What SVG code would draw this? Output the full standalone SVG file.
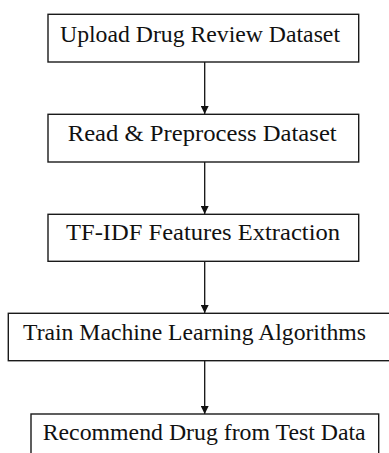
<svg xmlns="http://www.w3.org/2000/svg" width="389" height="453" viewBox="0 0 389 453">
  <style>
    .box { fill: #ffffff; stroke: #1a1a1a; stroke-width: 1.4; }
    .label { font-family: "Liberation Serif", "Times New Roman", serif; font-size: 23.5px; fill: #111111; }
    .link { stroke: #111111; stroke-width: 1.3; fill: none; }
  </style>
  <defs>
    <marker id="arrow" viewBox="0 0 10 10" refX="10" refY="5" markerWidth="8" markerHeight="8" markerUnits="userSpaceOnUse" orient="auto">
      <path d="M0,0 L10,5 L0,10 Z" fill="#111111"/>
    </marker>
  </defs>
  <rect width="389" height="453" fill="#ffffff"/>

  <g id="connectors">
    <line class="link" x1="204.7" y1="62" x2="204.7" y2="114" marker-end="url(#arrow)"/>
    <line class="link" x1="204.7" y1="162" x2="204.7" y2="214" marker-end="url(#arrow)"/>
    <line class="link" x1="204.7" y1="261" x2="204.7" y2="313" marker-end="url(#arrow)"/>
    <line class="link" x1="204.7" y1="361" x2="204.7" y2="414" marker-end="url(#arrow)"/>
  </g>

  <g id="upload">
    <rect class="box" x="48" y="14.3" width="310.7" height="47.7"/>
    <text class="label" x="60" y="41.7" textLength="280" lengthAdjust="spacingAndGlyphs">Upload Drug Review Dataset</text>
  </g>
  <g id="preprocess">
    <rect class="box" x="48" y="114.3" width="310.7" height="47.7"/>
    <text class="label" x="67.7" y="140.7" textLength="269" lengthAdjust="spacingAndGlyphs">Read &amp; Preprocess Dataset</text>
  </g>
  <g id="tfidf">
    <rect class="box" x="48" y="214.3" width="310.7" height="47"/>
    <text class="label" x="66" y="240" textLength="274" lengthAdjust="spacingAndGlyphs">TF-IDF Features Extraction</text>
  </g>
  <g id="train">
    <rect class="box" x="8.3" y="313.3" width="385" height="47.4"/>
    <text class="label" x="23" y="340" textLength="343" lengthAdjust="spacingAndGlyphs">Train Machine Learning Algorithms</text>
  </g>
  <g id="recommend">
    <rect class="box" x="31" y="414" width="347.7" height="48"/>
    <text class="label" x="42.7" y="440" textLength="323" lengthAdjust="spacingAndGlyphs">Recommend Drug from Test Data</text>
  </g>
</svg>
